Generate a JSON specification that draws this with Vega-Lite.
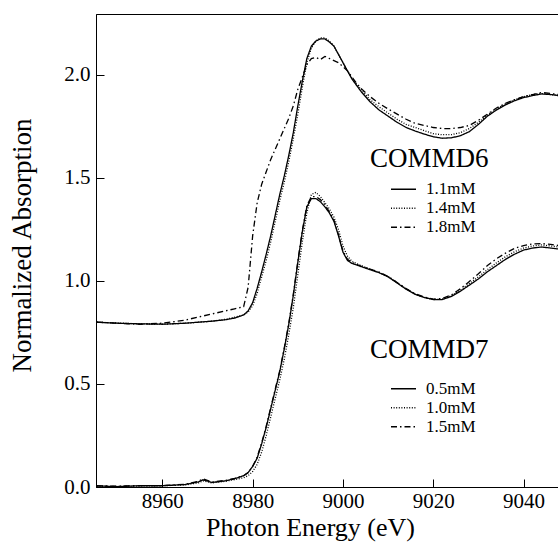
{
  "$schema": "https://vega.github.io/schema/vega-lite/v6.json",
  "width": 463,
  "height": 473,
  "autosize": {"type": "none"},
  "padding": {"left": 96, "top": 14, "right": 0, "bottom": 58},
  "background": "white",
  "config": {
    "view": {"stroke": "black", "strokeWidth": 1},
    "font": "Liberation Serif",
    "style": {"guide-label": {"font": "Liberation Serif", "fill": "black"}, "guide-title": {"font": "Liberation Serif", "fill": "black", "fontWeight": "normal"}},
    "axis": {"grid": false, "domainColor": "black", "tickColor": "black", "labelColor": "black", "titleColor": "black", "labelFont": "Liberation Serif", "titleFont": "Liberation Serif", "titleFontWeight": "normal", "tickSize": -8, "labelFontSize": 21, "titleFontSize": 26},
    "legend": {"titleFont": "Liberation Serif", "labelFont": "Liberation Serif", "titleFontWeight": "normal", "titleColor": "black", "labelColor": "black", "titleFontSize": 27, "labelFontSize": 17, "symbolType": "stroke", "symbolSize": 625, "symbolStrokeWidth": 1.5, "symbolStrokeColor": "black", "padding": 0, "labelOffset": 9, "rowPadding": 0, "clipHeight": 17.5}
  },
  "datasets": {
    "c6": [
      {"conc":"1.1mM","energy":8945.5,"absorption":0.80},{"conc":"1.1mM","energy":8950,"absorption":0.795},{"conc":"1.1mM","energy":8955,"absorption":0.792},{"conc":"1.1mM","energy":8960,"absorption":0.79},{"conc":"1.1mM","energy":8965,"absorption":0.795},{"conc":"1.1mM","energy":8968,"absorption":0.80},{"conc":"1.1mM","energy":8971,"absorption":0.805},{"conc":"1.1mM","energy":8974,"absorption":0.812},{"conc":"1.1mM","energy":8976,"absorption":0.82},{"conc":"1.1mM","energy":8978,"absorption":0.835},{"conc":"1.1mM","energy":8979,"absorption":0.855},{"conc":"1.1mM","energy":8980,"absorption":0.895},{"conc":"1.1mM","energy":8981,"absorption":0.965},{"conc":"1.1mM","energy":8982,"absorption":1.045},{"conc":"1.1mM","energy":8983,"absorption":1.13},{"conc":"1.1mM","energy":8984,"absorption":1.22},{"conc":"1.1mM","energy":8985,"absorption":1.32},{"conc":"1.1mM","energy":8986,"absorption":1.42},{"conc":"1.1mM","energy":8987,"absorption":1.51},{"conc":"1.1mM","energy":8988,"absorption":1.61},{"conc":"1.1mM","energy":8989,"absorption":1.72},{"conc":"1.1mM","energy":8990,"absorption":1.85},{"conc":"1.1mM","energy":8991,"absorption":1.97},{"conc":"1.1mM","energy":8992,"absorption":2.08},{"conc":"1.1mM","energy":8993,"absorption":2.14},{"conc":"1.1mM","energy":8994,"absorption":2.165},{"conc":"1.1mM","energy":8995,"absorption":2.175},{"conc":"1.1mM","energy":8996,"absorption":2.175},{"conc":"1.1mM","energy":8997,"absorption":2.16},{"conc":"1.1mM","energy":8998,"absorption":2.14},{"conc":"1.1mM","energy":8999,"absorption":2.10},{"conc":"1.1mM","energy":9000,"absorption":2.06},{"conc":"1.1mM","energy":9001,"absorption":2.02},{"conc":"1.1mM","energy":9002,"absorption":1.98},{"conc":"1.1mM","energy":9003,"absorption":1.95},{"conc":"1.1mM","energy":9004,"absorption":1.92},{"conc":"1.1mM","energy":9006,"absorption":1.87},{"conc":"1.1mM","energy":9008,"absorption":1.83},{"conc":"1.1mM","energy":9010,"absorption":1.80},{"conc":"1.1mM","energy":9012,"absorption":1.77},{"conc":"1.1mM","energy":9014,"absorption":1.745},{"conc":"1.1mM","energy":9016,"absorption":1.728},{"conc":"1.1mM","energy":9018,"absorption":1.713},{"conc":"1.1mM","energy":9020,"absorption":1.70},{"conc":"1.1mM","energy":9022,"absorption":1.693},{"conc":"1.1mM","energy":9024,"absorption":1.695},{"conc":"1.1mM","energy":9026,"absorption":1.705},{"conc":"1.1mM","energy":9028,"absorption":1.725},{"conc":"1.1mM","energy":9030,"absorption":1.76},{"conc":"1.1mM","energy":9032,"absorption":1.80},{"conc":"1.1mM","energy":9034,"absorption":1.83},{"conc":"1.1mM","energy":9036,"absorption":1.855},{"conc":"1.1mM","energy":9038,"absorption":1.875},{"conc":"1.1mM","energy":9040,"absorption":1.89},{"conc":"1.1mM","energy":9042,"absorption":1.90},{"conc":"1.1mM","energy":9044,"absorption":1.908},{"conc":"1.1mM","energy":9046,"absorption":1.905},{"conc":"1.1mM","energy":9047.8,"absorption":1.90},

      {"conc":"1.4mM","energy":8945.5,"absorption":0.80},{"conc":"1.4mM","energy":8950,"absorption":0.796},{"conc":"1.4mM","energy":8955,"absorption":0.792},{"conc":"1.4mM","energy":8960,"absorption":0.79},{"conc":"1.4mM","energy":8965,"absorption":0.795},{"conc":"1.4mM","energy":8968,"absorption":0.80},{"conc":"1.4mM","energy":8971,"absorption":0.805},{"conc":"1.4mM","energy":8974,"absorption":0.814},{"conc":"1.4mM","energy":8976,"absorption":0.824},{"conc":"1.4mM","energy":8978,"absorption":0.835},{"conc":"1.4mM","energy":8979,"absorption":0.85},{"conc":"1.4mM","energy":8980,"absorption":0.88},{"conc":"1.4mM","energy":8981,"absorption":0.94},{"conc":"1.4mM","energy":8982,"absorption":1.02},{"conc":"1.4mM","energy":8983,"absorption":1.10},{"conc":"1.4mM","energy":8984,"absorption":1.19},{"conc":"1.4mM","energy":8985,"absorption":1.29},{"conc":"1.4mM","energy":8986,"absorption":1.39},{"conc":"1.4mM","energy":8987,"absorption":1.48},{"conc":"1.4mM","energy":8988,"absorption":1.58},{"conc":"1.4mM","energy":8989,"absorption":1.69},{"conc":"1.4mM","energy":8990,"absorption":1.81},{"conc":"1.4mM","energy":8991,"absorption":1.94},{"conc":"1.4mM","energy":8992,"absorption":2.06},{"conc":"1.4mM","energy":8993,"absorption":2.13},{"conc":"1.4mM","energy":8994,"absorption":2.165},{"conc":"1.4mM","energy":8995,"absorption":2.18},{"conc":"1.4mM","energy":8996,"absorption":2.18},{"conc":"1.4mM","energy":8997,"absorption":2.165},{"conc":"1.4mM","energy":8998,"absorption":2.14},{"conc":"1.4mM","energy":8999,"absorption":2.10},{"conc":"1.4mM","energy":9000,"absorption":2.06},{"conc":"1.4mM","energy":9001,"absorption":2.02},{"conc":"1.4mM","energy":9002,"absorption":1.985},{"conc":"1.4mM","energy":9003,"absorption":1.955},{"conc":"1.4mM","energy":9004,"absorption":1.93},{"conc":"1.4mM","energy":9006,"absorption":1.88},{"conc":"1.4mM","energy":9008,"absorption":1.845},{"conc":"1.4mM","energy":9010,"absorption":1.815},{"conc":"1.4mM","energy":9012,"absorption":1.785},{"conc":"1.4mM","energy":9014,"absorption":1.76},{"conc":"1.4mM","energy":9016,"absorption":1.745},{"conc":"1.4mM","energy":9018,"absorption":1.73},{"conc":"1.4mM","energy":9020,"absorption":1.715},{"conc":"1.4mM","energy":9022,"absorption":1.71},{"conc":"1.4mM","energy":9024,"absorption":1.71},{"conc":"1.4mM","energy":9026,"absorption":1.72},{"conc":"1.4mM","energy":9028,"absorption":1.74},{"conc":"1.4mM","energy":9030,"absorption":1.77},{"conc":"1.4mM","energy":9032,"absorption":1.805},{"conc":"1.4mM","energy":9034,"absorption":1.835},{"conc":"1.4mM","energy":9036,"absorption":1.86},{"conc":"1.4mM","energy":9038,"absorption":1.88},{"conc":"1.4mM","energy":9040,"absorption":1.895},{"conc":"1.4mM","energy":9042,"absorption":1.905},{"conc":"1.4mM","energy":9044,"absorption":1.91},{"conc":"1.4mM","energy":9046,"absorption":1.905},{"conc":"1.4mM","energy":9047.8,"absorption":1.90},

      {"conc":"1.8mM","energy":8945.5,"absorption":0.80},{"conc":"1.8mM","energy":8950,"absorption":0.795},{"conc":"1.8mM","energy":8955,"absorption":0.79},{"conc":"1.8mM","energy":8960,"absorption":0.795},{"conc":"1.8mM","energy":8965,"absorption":0.81},{"conc":"1.8mM","energy":8968,"absorption":0.825},{"conc":"1.8mM","energy":8971,"absorption":0.84},{"conc":"1.8mM","energy":8974,"absorption":0.855},{"conc":"1.8mM","energy":8976,"absorption":0.865},{"conc":"1.8mM","energy":8978,"absorption":0.875},{"conc":"1.8mM","energy":8979,"absorption":0.97},{"conc":"1.8mM","energy":8980,"absorption":1.22},{"conc":"1.8mM","energy":8981,"absorption":1.38},{"conc":"1.8mM","energy":8982,"absorption":1.47},{"conc":"1.8mM","energy":8983,"absorption":1.53},{"conc":"1.8mM","energy":8984,"absorption":1.59},{"conc":"1.8mM","energy":8985,"absorption":1.64},{"conc":"1.8mM","energy":8986,"absorption":1.69},{"conc":"1.8mM","energy":8987,"absorption":1.74},{"conc":"1.8mM","energy":8988,"absorption":1.79},{"conc":"1.8mM","energy":8989,"absorption":1.85},{"conc":"1.8mM","energy":8990,"absorption":1.93},{"conc":"1.8mM","energy":8991,"absorption":1.99},{"conc":"1.8mM","energy":8992,"absorption":2.05},{"conc":"1.8mM","energy":8993,"absorption":2.08},{"conc":"1.8mM","energy":8994,"absorption":2.085},{"conc":"1.8mM","energy":8995,"absorption":2.075},{"conc":"1.8mM","energy":8996,"absorption":2.09},{"conc":"1.8mM","energy":8997,"absorption":2.08},{"conc":"1.8mM","energy":8998,"absorption":2.07},{"conc":"1.8mM","energy":8999,"absorption":2.06},{"conc":"1.8mM","energy":9000,"absorption":2.04},{"conc":"1.8mM","energy":9001,"absorption":2.02},{"conc":"1.8mM","energy":9002,"absorption":1.99},{"conc":"1.8mM","energy":9003,"absorption":1.96},{"conc":"1.8mM","energy":9004,"absorption":1.935},{"conc":"1.8mM","energy":9006,"absorption":1.895},{"conc":"1.8mM","energy":9008,"absorption":1.862},{"conc":"1.8mM","energy":9010,"absorption":1.835},{"conc":"1.8mM","energy":9012,"absorption":1.81},{"conc":"1.8mM","energy":9014,"absorption":1.785},{"conc":"1.8mM","energy":9016,"absorption":1.765},{"conc":"1.8mM","energy":9018,"absorption":1.755},{"conc":"1.8mM","energy":9020,"absorption":1.745},{"conc":"1.8mM","energy":9022,"absorption":1.74},{"conc":"1.8mM","energy":9024,"absorption":1.74},{"conc":"1.8mM","energy":9026,"absorption":1.745},{"conc":"1.8mM","energy":9028,"absorption":1.755},{"conc":"1.8mM","energy":9030,"absorption":1.78},{"conc":"1.8mM","energy":9032,"absorption":1.81},{"conc":"1.8mM","energy":9034,"absorption":1.84},{"conc":"1.8mM","energy":9036,"absorption":1.862},{"conc":"1.8mM","energy":9038,"absorption":1.88},{"conc":"1.8mM","energy":9040,"absorption":1.895},{"conc":"1.8mM","energy":9042,"absorption":1.905},{"conc":"1.8mM","energy":9044,"absorption":1.915},{"conc":"1.8mM","energy":9046,"absorption":1.91},{"conc":"1.8mM","energy":9047.8,"absorption":1.905}
    ],
    "c7": [
      {"conc":"0.5mM","energy":8945.5,"absorption":0.005},{"conc":"0.5mM","energy":8950,"absorption":0.002},{"conc":"0.5mM","energy":8955,"absorption":0.006},{"conc":"0.5mM","energy":8960,"absorption":0.006},{"conc":"0.5mM","energy":8965,"absorption":0.012},{"conc":"0.5mM","energy":8968,"absorption":0.025},{"conc":"0.5mM","energy":8969,"absorption":0.035},{"conc":"0.5mM","energy":8971,"absorption":0.022},{"conc":"0.5mM","energy":8974,"absorption":0.03},{"conc":"0.5mM","energy":8976,"absorption":0.04},{"conc":"0.5mM","energy":8978,"absorption":0.055},{"conc":"0.5mM","energy":8979,"absorption":0.07},{"conc":"0.5mM","energy":8980,"absorption":0.10},{"conc":"0.5mM","energy":8981,"absorption":0.14},{"conc":"0.5mM","energy":8982,"absorption":0.21},{"conc":"0.5mM","energy":8983,"absorption":0.29},{"conc":"0.5mM","energy":8984,"absorption":0.38},{"conc":"0.5mM","energy":8985,"absorption":0.47},{"conc":"0.5mM","energy":8986,"absorption":0.56},{"conc":"0.5mM","energy":8987,"absorption":0.67},{"conc":"0.5mM","energy":8988,"absorption":0.79},{"conc":"0.5mM","energy":8989,"absorption":0.93},{"conc":"0.5mM","energy":8990,"absorption":1.09},{"conc":"0.5mM","energy":8991,"absorption":1.24},{"conc":"0.5mM","energy":8992,"absorption":1.36},{"conc":"0.5mM","energy":8993,"absorption":1.40},{"conc":"0.5mM","energy":8994,"absorption":1.40},{"conc":"0.5mM","energy":8995,"absorption":1.385},{"conc":"0.5mM","energy":8996,"absorption":1.36},{"conc":"0.5mM","energy":8997,"absorption":1.33},{"conc":"0.5mM","energy":8998,"absorption":1.29},{"conc":"0.5mM","energy":8999,"absorption":1.22},{"conc":"0.5mM","energy":9000,"absorption":1.14},{"conc":"0.5mM","energy":9001,"absorption":1.10},{"conc":"0.5mM","energy":9002,"absorption":1.085},{"conc":"0.5mM","energy":9003,"absorption":1.078},{"conc":"0.5mM","energy":9004,"absorption":1.07},{"conc":"0.5mM","energy":9006,"absorption":1.055},{"conc":"0.5mM","energy":9008,"absorption":1.04},{"conc":"0.5mM","energy":9010,"absorption":1.02},{"conc":"0.5mM","energy":9012,"absorption":0.99},{"conc":"0.5mM","energy":9014,"absorption":0.96},{"conc":"0.5mM","energy":9016,"absorption":0.935},{"conc":"0.5mM","energy":9018,"absorption":0.92},{"conc":"0.5mM","energy":9020,"absorption":0.91},{"conc":"0.5mM","energy":9022,"absorption":0.91},{"conc":"0.5mM","energy":9024,"absorption":0.925},{"conc":"0.5mM","energy":9026,"absorption":0.95},{"conc":"0.5mM","energy":9028,"absorption":0.98},{"conc":"0.5mM","energy":9030,"absorption":1.01},{"conc":"0.5mM","energy":9032,"absorption":1.045},{"conc":"0.5mM","energy":9034,"absorption":1.075},{"conc":"0.5mM","energy":9036,"absorption":1.105},{"conc":"0.5mM","energy":9038,"absorption":1.13},{"conc":"0.5mM","energy":9040,"absorption":1.15},{"conc":"0.5mM","energy":9042,"absorption":1.16},{"conc":"0.5mM","energy":9044,"absorption":1.165},{"conc":"0.5mM","energy":9046,"absorption":1.16},{"conc":"0.5mM","energy":9047.8,"absorption":1.155},

      {"conc":"1.0mM","energy":8945.5,"absorption":0.004},{"conc":"1.0mM","energy":8950,"absorption":0.003},{"conc":"1.0mM","energy":8955,"absorption":0.005},{"conc":"1.0mM","energy":8960,"absorption":0.006},{"conc":"1.0mM","energy":8965,"absorption":0.01},{"conc":"1.0mM","energy":8968,"absorption":0.02},{"conc":"1.0mM","energy":8969,"absorption":0.03},{"conc":"1.0mM","energy":8971,"absorption":0.02},{"conc":"1.0mM","energy":8974,"absorption":0.028},{"conc":"1.0mM","energy":8976,"absorption":0.036},{"conc":"1.0mM","energy":8978,"absorption":0.045},{"conc":"1.0mM","energy":8979,"absorption":0.055},{"conc":"1.0mM","energy":8980,"absorption":0.075},{"conc":"1.0mM","energy":8981,"absorption":0.11},{"conc":"1.0mM","energy":8982,"absorption":0.17},{"conc":"1.0mM","energy":8983,"absorption":0.25},{"conc":"1.0mM","energy":8984,"absorption":0.34},{"conc":"1.0mM","energy":8985,"absorption":0.43},{"conc":"1.0mM","energy":8986,"absorption":0.52},{"conc":"1.0mM","energy":8987,"absorption":0.62},{"conc":"1.0mM","energy":8988,"absorption":0.74},{"conc":"1.0mM","energy":8989,"absorption":0.87},{"conc":"1.0mM","energy":8990,"absorption":1.03},{"conc":"1.0mM","energy":8991,"absorption":1.19},{"conc":"1.0mM","energy":8992,"absorption":1.33},{"conc":"1.0mM","energy":8993,"absorption":1.42},{"conc":"1.0mM","energy":8994,"absorption":1.43},{"conc":"1.0mM","energy":8995,"absorption":1.41},{"conc":"1.0mM","energy":8996,"absorption":1.38},{"conc":"1.0mM","energy":8997,"absorption":1.35},{"conc":"1.0mM","energy":8998,"absorption":1.31},{"conc":"1.0mM","energy":8999,"absorption":1.25},{"conc":"1.0mM","energy":9000,"absorption":1.17},{"conc":"1.0mM","energy":9001,"absorption":1.12},{"conc":"1.0mM","energy":9002,"absorption":1.095},{"conc":"1.0mM","energy":9003,"absorption":1.085},{"conc":"1.0mM","energy":9004,"absorption":1.075},{"conc":"1.0mM","energy":9006,"absorption":1.058},{"conc":"1.0mM","energy":9008,"absorption":1.042},{"conc":"1.0mM","energy":9010,"absorption":1.022},{"conc":"1.0mM","energy":9012,"absorption":0.992},{"conc":"1.0mM","energy":9014,"absorption":0.962},{"conc":"1.0mM","energy":9016,"absorption":0.937},{"conc":"1.0mM","energy":9018,"absorption":0.92},{"conc":"1.0mM","energy":9020,"absorption":0.91},{"conc":"1.0mM","energy":9022,"absorption":0.912},{"conc":"1.0mM","energy":9024,"absorption":0.928},{"conc":"1.0mM","energy":9026,"absorption":0.955},{"conc":"1.0mM","energy":9028,"absorption":0.988},{"conc":"1.0mM","energy":9030,"absorption":1.02},{"conc":"1.0mM","energy":9032,"absorption":1.055},{"conc":"1.0mM","energy":9034,"absorption":1.088},{"conc":"1.0mM","energy":9036,"absorption":1.118},{"conc":"1.0mM","energy":9038,"absorption":1.142},{"conc":"1.0mM","energy":9040,"absorption":1.16},{"conc":"1.0mM","energy":9042,"absorption":1.17},{"conc":"1.0mM","energy":9044,"absorption":1.175},{"conc":"1.0mM","energy":9046,"absorption":1.17},{"conc":"1.0mM","energy":9047.8,"absorption":1.165},

      {"conc":"1.5mM","energy":8945.5,"absorption":0.006},{"conc":"1.5mM","energy":8950,"absorption":0.004},{"conc":"1.5mM","energy":8955,"absorption":0.007},{"conc":"1.5mM","energy":8960,"absorption":0.007},{"conc":"1.5mM","energy":8965,"absorption":0.013},{"conc":"1.5mM","energy":8968,"absorption":0.028},{"conc":"1.5mM","energy":8969,"absorption":0.04},{"conc":"1.5mM","energy":8971,"absorption":0.024},{"conc":"1.5mM","energy":8974,"absorption":0.032},{"conc":"1.5mM","energy":8976,"absorption":0.042},{"conc":"1.5mM","energy":8978,"absorption":0.055},{"conc":"1.5mM","energy":8979,"absorption":0.07},{"conc":"1.5mM","energy":8980,"absorption":0.10},{"conc":"1.5mM","energy":8981,"absorption":0.145},{"conc":"1.5mM","energy":8982,"absorption":0.215},{"conc":"1.5mM","energy":8983,"absorption":0.295},{"conc":"1.5mM","energy":8984,"absorption":0.385},{"conc":"1.5mM","energy":8985,"absorption":0.475},{"conc":"1.5mM","energy":8986,"absorption":0.565},{"conc":"1.5mM","energy":8987,"absorption":0.675},{"conc":"1.5mM","energy":8988,"absorption":0.795},{"conc":"1.5mM","energy":8989,"absorption":0.935},{"conc":"1.5mM","energy":8990,"absorption":1.095},{"conc":"1.5mM","energy":8991,"absorption":1.245},{"conc":"1.5mM","energy":8992,"absorption":1.365},{"conc":"1.5mM","energy":8993,"absorption":1.41},{"conc":"1.5mM","energy":8994,"absorption":1.41},{"conc":"1.5mM","energy":8995,"absorption":1.395},{"conc":"1.5mM","energy":8996,"absorption":1.37},{"conc":"1.5mM","energy":8997,"absorption":1.335},{"conc":"1.5mM","energy":8998,"absorption":1.295},{"conc":"1.5mM","energy":8999,"absorption":1.225},{"conc":"1.5mM","energy":9000,"absorption":1.145},{"conc":"1.5mM","energy":9001,"absorption":1.105},{"conc":"1.5mM","energy":9002,"absorption":1.09},{"conc":"1.5mM","energy":9003,"absorption":1.08},{"conc":"1.5mM","energy":9004,"absorption":1.072},{"conc":"1.5mM","energy":9006,"absorption":1.058},{"conc":"1.5mM","energy":9008,"absorption":1.043},{"conc":"1.5mM","energy":9010,"absorption":1.022},{"conc":"1.5mM","energy":9012,"absorption":0.993},{"conc":"1.5mM","energy":9014,"absorption":0.963},{"conc":"1.5mM","energy":9016,"absorption":0.938},{"conc":"1.5mM","energy":9018,"absorption":0.922},{"conc":"1.5mM","energy":9020,"absorption":0.912},{"conc":"1.5mM","energy":9022,"absorption":0.915},{"conc":"1.5mM","energy":9024,"absorption":0.932},{"conc":"1.5mM","energy":9026,"absorption":0.962},{"conc":"1.5mM","energy":9028,"absorption":0.998},{"conc":"1.5mM","energy":9030,"absorption":1.035},{"conc":"1.5mM","energy":9032,"absorption":1.075},{"conc":"1.5mM","energy":9034,"absorption":1.108},{"conc":"1.5mM","energy":9036,"absorption":1.135},{"conc":"1.5mM","energy":9038,"absorption":1.158},{"conc":"1.5mM","energy":9040,"absorption":1.172},{"conc":"1.5mM","energy":9042,"absorption":1.18},{"conc":"1.5mM","energy":9044,"absorption":1.182},{"conc":"1.5mM","energy":9046,"absorption":1.178},{"conc":"1.5mM","energy":9047.8,"absorption":1.172}
    ]
  },
  "encoding": {
    "x": {"field": "energy", "type": "quantitative", "scale": {"domain": [8945.3, 9047.85], "nice": false, "zero": false},
      "axis": {"values": [8960, 8980, 9000, 9020, 9040], "format": "d", "labelFont": "Liberation Serif", "titleFont": "Liberation Serif", "labelFontSize": 21, "titleFontSize": 26, "labelPadding": 11, "title": "Photon Energy (eV)", "titleX": 214, "titleY": 48, "titleAnchor": null, "titleAlign": "center", "titleBaseline": "alphabetic"}},
    "y": {"field": "absorption", "type": "quantitative", "scale": {"domain": [0, 2.296], "nice": false, "zero": false},
      "axis": {"values": [0, 0.5, 1, 1.5, 2], "format": ".1f", "labelFont": "Liberation Serif", "titleFont": "Liberation Serif", "labelFontSize": 21, "labelPadding": 14, "title": "Normalized Absorption", "titleFontSize": 27, "titleAngle": -90, "titleX": -66, "titleY": 231, "titleAlign": "center", "titleBaseline": "alphabetic"}}
  },
  "layer": [
    {
      "data": {"name": "c6"},
      "mark": {"type": "line", "color": "black", "strokeWidth": 1.3, "clip": true},
      "encoding": {
        "strokeDash": {"field": "conc", "type": "nominal",
          "scale": {"domain": ["1.1mM", "1.4mM", "1.8mM"], "range": [[1, 0], [1, 1.6], [6, 3, 1.5, 3]]},
          "legend": {"title": "COMMD6", "orient": "none", "legendX": 274, "legendY": 132, "titlePadding": 7.5, "symbolOffset": 20}}
      }
    },
    {
      "data": {"name": "c7"},
      "mark": {"type": "line", "color": "black", "strokeWidth": 1.3, "clip": true},
      "encoding": {
        "strokeDash": {"field": "conc", "type": "nominal",
          "scale": {"domain": ["0.5mM", "1.0mM", "1.5mM"], "range": [[1, 0], [1, 1.6], [6, 3, 1.5, 3]]},
          "legend": {"title": "COMMD7", "orient": "none", "legendX": 274, "legendY": 323, "titlePadding": 16, "symbolOffset": 20}}
      }
    }
  ],
  "resolve": {"scale": {"strokeDash": "independent"}, "legend": {"strokeDash": "independent"}}
}
